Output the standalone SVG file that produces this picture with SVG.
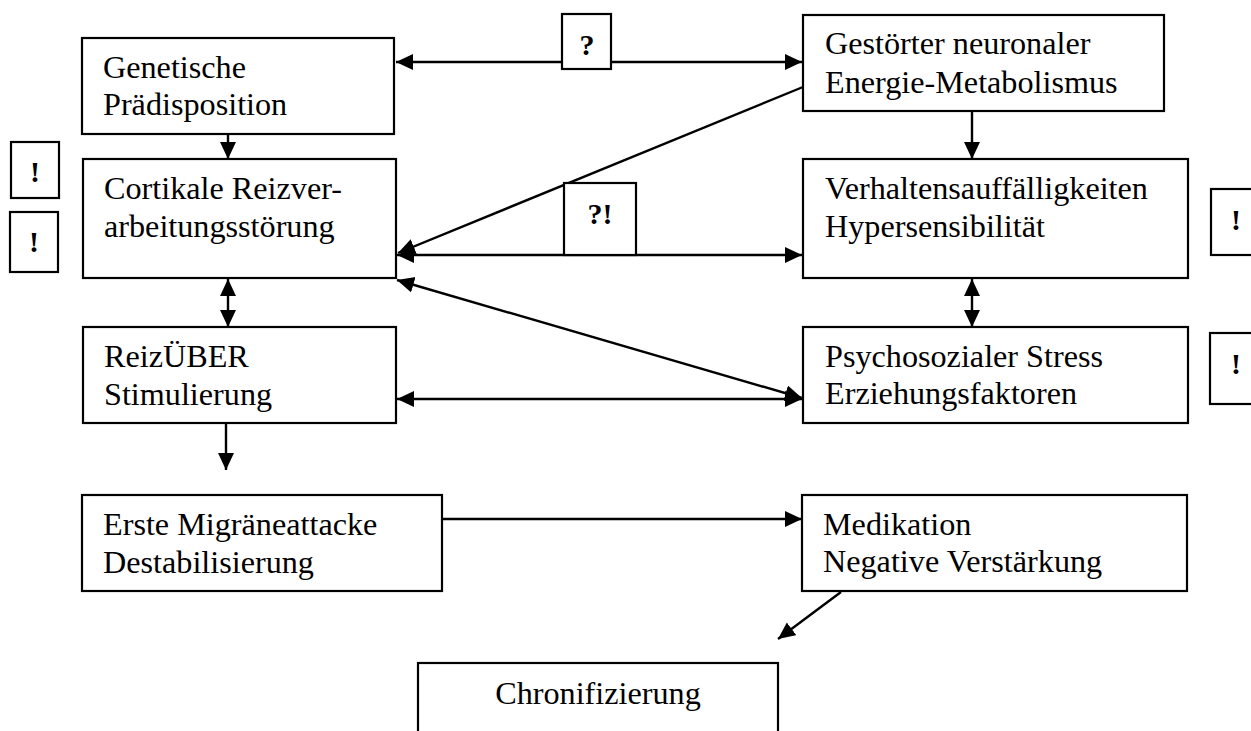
<svg xmlns="http://www.w3.org/2000/svg" width="1251" height="731" viewBox="0 0 1251 731">
<style>
.box{fill:#fff;stroke:#000;stroke-width:2.2}
.t{font-size:32.2px;fill:#000}
.b{font-size:30px;font-weight:bold;fill:#000;text-anchor:middle}
.c{stroke:#000;stroke-width:2.4;fill:none}
</style>
<defs>
<marker id="ah" markerUnits="userSpaceOnUse" markerWidth="19" markerHeight="17" refX="17" refY="8" orient="auto-start-reverse">
<path d="M0,0 L17,8 L0,16 z" fill="#000"/>
</marker>
</defs>
<rect width="1251" height="731" fill="#fff"/>
<g id="connectors">
<line class="c" x1="396" y1="62" x2="802" y2="62" marker-start="url(#ah)" marker-end="url(#ah)"/>
<line class="c" x1="803" y1="87" x2="398" y2="253" marker-end="url(#ah)"/>
<line class="c" x1="397" y1="255" x2="802" y2="255" marker-start="url(#ah)" marker-end="url(#ah)"/>
<line class="c" x1="397" y1="280" x2="802" y2="398" marker-start="url(#ah)" marker-end="url(#ah)"/>
<line class="c" x1="397" y1="399" x2="802" y2="399" marker-start="url(#ah)" marker-end="url(#ah)"/>
<line class="c" x1="228" y1="134" x2="228" y2="159" marker-end="url(#ah)"/>
<line class="c" x1="228" y1="279" x2="228" y2="327" marker-start="url(#ah)" marker-end="url(#ah)"/>
<line class="c" x1="972" y1="111" x2="972" y2="159" marker-end="url(#ah)"/>
<line class="c" x1="972" y1="279" x2="972" y2="327" marker-start="url(#ah)" marker-end="url(#ah)"/>
<line class="c" x1="226" y1="423" x2="226" y2="470" marker-end="url(#ah)"/>
<line class="c" x1="442" y1="519" x2="802" y2="519" marker-end="url(#ah)"/>
<line class="c" x1="841" y1="592" x2="778" y2="639" marker-end="url(#ah)"/>
</g>
<g font-family="'Liberation Serif', serif">
<g id="q1"><rect class="box" x="562" y="14" width="49" height="55"/><text class="b" x="587" y="55">?</text></g>
<g id="q2"><rect class="box" x="564" y="183" width="72" height="72"/><text class="b" x="600" y="224">?!</text></g>
<g id="ex1"><rect class="box" x="11" y="142" width="48" height="56"/><text class="b" x="35" y="182">!</text></g>
<g id="ex2"><rect class="box" x="10" y="212" width="48" height="60"/><text class="b" x="34" y="252">!</text></g>
<g id="ex3"><rect class="box" x="1211" y="189" width="50" height="66"/><text class="b" x="1236" y="230">!</text></g>
<g id="ex4"><rect class="box" x="1210" y="333" width="50" height="71"/><text class="b" x="1236" y="374">!</text></g>
<g id="genetisch"><rect class="box" x="82" y="38" width="312" height="96"/><text class="t" x="103" y="78">Genetische</text><text class="t" x="103" y="115">Prädisposition</text></g>
<g id="cortikal"><rect class="box" x="83" y="159" width="313" height="119"/><text class="t" x="104" y="199">Cortikale Reizver-</text><text class="t" x="104" y="237">arbeitungsstörung</text></g>
<g id="reizueber"><rect class="box" x="83" y="327" width="313" height="96"/><text class="t" x="104" y="367">ReizÜBER</text><text class="t" x="104" y="405">Stimulierung</text></g>
<g id="erste"><rect class="box" x="82" y="495" width="360" height="96"/><text class="t" x="103" y="535">Erste Migräneattacke</text><text class="t" x="103" y="573">Destabilisierung</text></g>
<g id="gestoert"><rect class="box" x="803" y="15" width="361" height="96"/><text class="t" x="825" y="54">Gestörter neuronaler</text><text class="t" x="825" y="93">Energie-Metabolismus</text></g>
<g id="verhalten"><rect class="box" x="803" y="159" width="385" height="119"/><text class="t" x="825" y="199">Verhaltensauffälligkeiten</text><text class="t" x="825" y="237">Hypersensibilität</text></g>
<g id="psycho"><rect class="box" x="803" y="327" width="385" height="96"/><text class="t" x="825" y="367">Psychosozialer Stress</text><text class="t" x="825" y="404">Erziehungsfaktoren</text></g>
<g id="medikation"><rect class="box" x="802" y="495" width="385" height="96"/><text class="t" x="823" y="535">Medikation</text><text class="t" x="823" y="572">Negative Verstärkung</text></g>
<g id="chron"><rect class="box" x="418" y="663" width="360" height="90"/><text class="t" x="598" y="704" text-anchor="middle">Chronifizierung</text></g>
</g>
</svg>
